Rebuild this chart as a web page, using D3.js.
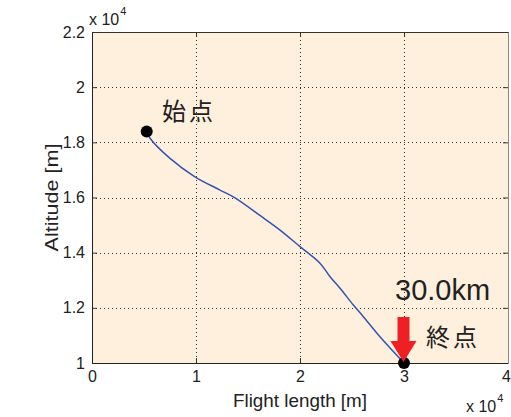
<!DOCTYPE html>
<html>
<head>
<meta charset="utf-8">
<script src="https://cdn.jsdelivr.net/npm/d3@7"></script>
<style>
  html, body { margin: 0; padding: 0; background: #fff; }
  svg { display: block; }
  text { fill: #222; }
</style>
</head>
<body>
<svg id="chart" width="511" height="417"></svg>
<script>
// Flight trajectory: horizontal distance vs altitude (metres)
const flightLength = [5260, 5580, 7500, 9900, 12310, 13750, 16150, 18080, 20000, 21920, 22890, 23850, 25130, 26090, 27690, 30000];
const altitude     = [18390, 18150, 17420, 16750, 16270, 15990, 15350, 14820, 14220, 13620, 13130, 12710, 12100, 11680, 10950, 10000];

const xTicks = [0, 10000, 20000, 30000, 40000];
const yTicks = [10000, 12000, 14000, 16000, 18000, 20000, 22000];
const startLabel = "始点";
const endLabel = "終点";
const xAxisTitle = "Flight length [m]";
const yAxisTitle = "Altitude [m]";

const svg = d3.select("#chart");
const plotL = 92, plotR = 508, plotT = 32, plotB = 363;

const x = d3.scaleLinear().domain([0, 40000]).range([plotL, plotR]);
const y = d3.scaleLinear().domain([10000, 22000]).range([plotB, plotT]);
const fmt = v => String(+(v / 1e4).toFixed(1));

const font = "'Liberation Sans', Arial, sans-serif";
const cjk = "'Noto Sans CJK JP', 'Noto Sans CJK SC', sans-serif";

// plot background
svg.append("rect")
  .attr("x", plotL).attr("y", plotT)
  .attr("width", plotR - plotL + 1).attr("height", plotB - plotT)
  .attr("fill", "#fef0dc");

// dotted grid
const grid = svg.append("g").attr("stroke", "#333").attr("stroke-width", 1)
  .attr("stroke-dasharray", "1,3");
grid.selectAll("line.gx").data(xTicks.slice(1, -1)).join("line")
  .attr("x1", d => Math.round(x(d)) + 0.5).attr("x2", d => Math.round(x(d)) + 0.5)
  .attr("y1", plotT).attr("y2", plotB);
grid.selectAll("line.gy").data(yTicks.slice(1, -1)).join("line")
  .attr("x1", plotL).attr("x2", plotR)
  .attr("y1", d => Math.round(y(d)) + 0.5).attr("y2", d => Math.round(y(d)) + 0.5);

// axes with inward ticks
function styleAxis(g) {
  g.select(".domain").remove();
  g.selectAll(".tick line").attr("stroke", "#333");
  g.selectAll(".tick text").attr("fill", "#222")
    .style("font-family", font).style("font-size", "16px");
}
svg.append("g").attr("transform", `translate(0,${plotB})`)
  .call(d3.axisBottom(x).tickValues(xTicks).tickFormat(fmt).tickSize(-5).tickPadding(8))
  .call(styleAxis)
  .call(g => g.selectAll(".tick:last-of-type text").attr("dx", -2));
svg.append("g").attr("transform", `translate(${plotL},0)`)
  .call(d3.axisLeft(y).tickValues(yTicks).tickFormat(fmt).tickSize(-5).tickPadding(7))
  .call(styleAxis);
svg.append("g").attr("transform", `translate(0,${plotT})`)
  .call(d3.axisTop(x).tickValues(xTicks).tickFormat("").tickSize(-5))
  .call(styleAxis);
svg.append("g").attr("transform", `translate(${plotR},0)`)
  .call(d3.axisRight(y).tickValues(yTicks).tickFormat("").tickSize(-5))
  .call(styleAxis);

// frame
svg.append("path")
  .attr("d", `M${plotL + 0.5},${plotT + 0.5}H${plotR + 0.5}`)
  .attr("stroke", "#333").attr("fill", "none");
svg.append("path")
  .attr("d", `M${plotL + 0.5},${plotT + 0.5}V${plotB + 0.5}H${plotR + 0.5}`)
  .attr("stroke", "#222").attr("fill", "none");
svg.append("path")
  .attr("d", `M${plotR + 0.5},${plotT + 0.5}V${plotB + 0.5}`)
  .attr("stroke", "#888").attr("fill", "none");

// exponent labels
function exponent(g, tx, ty) {
  const t = g.append("text").attr("x", tx).attr("y", ty)
    .style("font-family", font).style("font-size", "16px");
  t.append("tspan").text("x 10");
  t.append("tspan").attr("dy", -10).attr("dx", 1).style("font-size", "11px").text("4");
}
exponent(svg, 89, 25);
exponent(svg, 466, 412);

// axis titles
svg.append("text")
  .attr("x", (plotL + plotR) / 2).attr("y", 407)
  .attr("text-anchor", "middle")
  .attr("textLength", 134).attr("lengthAdjust", "spacingAndGlyphs")
  .style("font-family", font).style("font-size", "19px")
  .text(xAxisTitle);
svg.append("text")
  .attr("transform", `translate(58,${(plotT + plotB) / 2}) rotate(-90)`)
  .attr("text-anchor", "middle")
  .attr("textLength", 108).attr("lengthAdjust", "spacingAndGlyphs")
  .style("font-family", font).style("font-size", "19px")
  .text(yAxisTitle);

// trajectory
const line = d3.line()
  .x((d, i) => x(flightLength[i]))
  .y((d, i) => y(altitude[i]))
  .curve(d3.curveCatmullRom.alpha(0.5));
svg.append("path")
  .datum(flightLength)
  .attr("d", line)
  .attr("fill", "none")
  .attr("stroke", "#3553b5")
  .attr("stroke-width", 1.5);

// start and end markers
const n = flightLength.length - 1;
svg.selectAll("circle.pt").data([0, n]).join("circle")
  .attr("cx", i => x(flightLength[i]))
  .attr("cy", i => y(altitude[i]))
  .attr("r", 6)
  .attr("fill", "#000");

// arrow pointing at the end point
const ex = x(flightLength[n]) - 0.5, ey = y(altitude[n]) - 1;
svg.append("path")
  .attr("d", `M${ex - 6},${ey - 45}H${ex + 6}V${ey - 21}H${ex + 13}L${ex},${ey}L${ex - 13},${ey - 21}H${ex - 6}Z`)
  .attr("fill", "#ee2024");

// annotations
svg.append("text")
  .attr("x", 162).attr("y", 120)
  .style("font-family", cjk).style("font-size", "24px").style("letter-spacing", "3px")
  .text(startLabel);
svg.append("text")
  .attr("x", 426).attr("y", 346)
  .style("font-family", cjk).style("font-size", "24px").style("letter-spacing", "3px")
  .text(endLabel);
svg.append("text")
  .attr("x", 395).attr("y", 300)
  .style("font-family", font).style("font-size", "29px")
  .text((flightLength[n] / 1000).toFixed(1) + "km");
</script>
</body>
</html>
